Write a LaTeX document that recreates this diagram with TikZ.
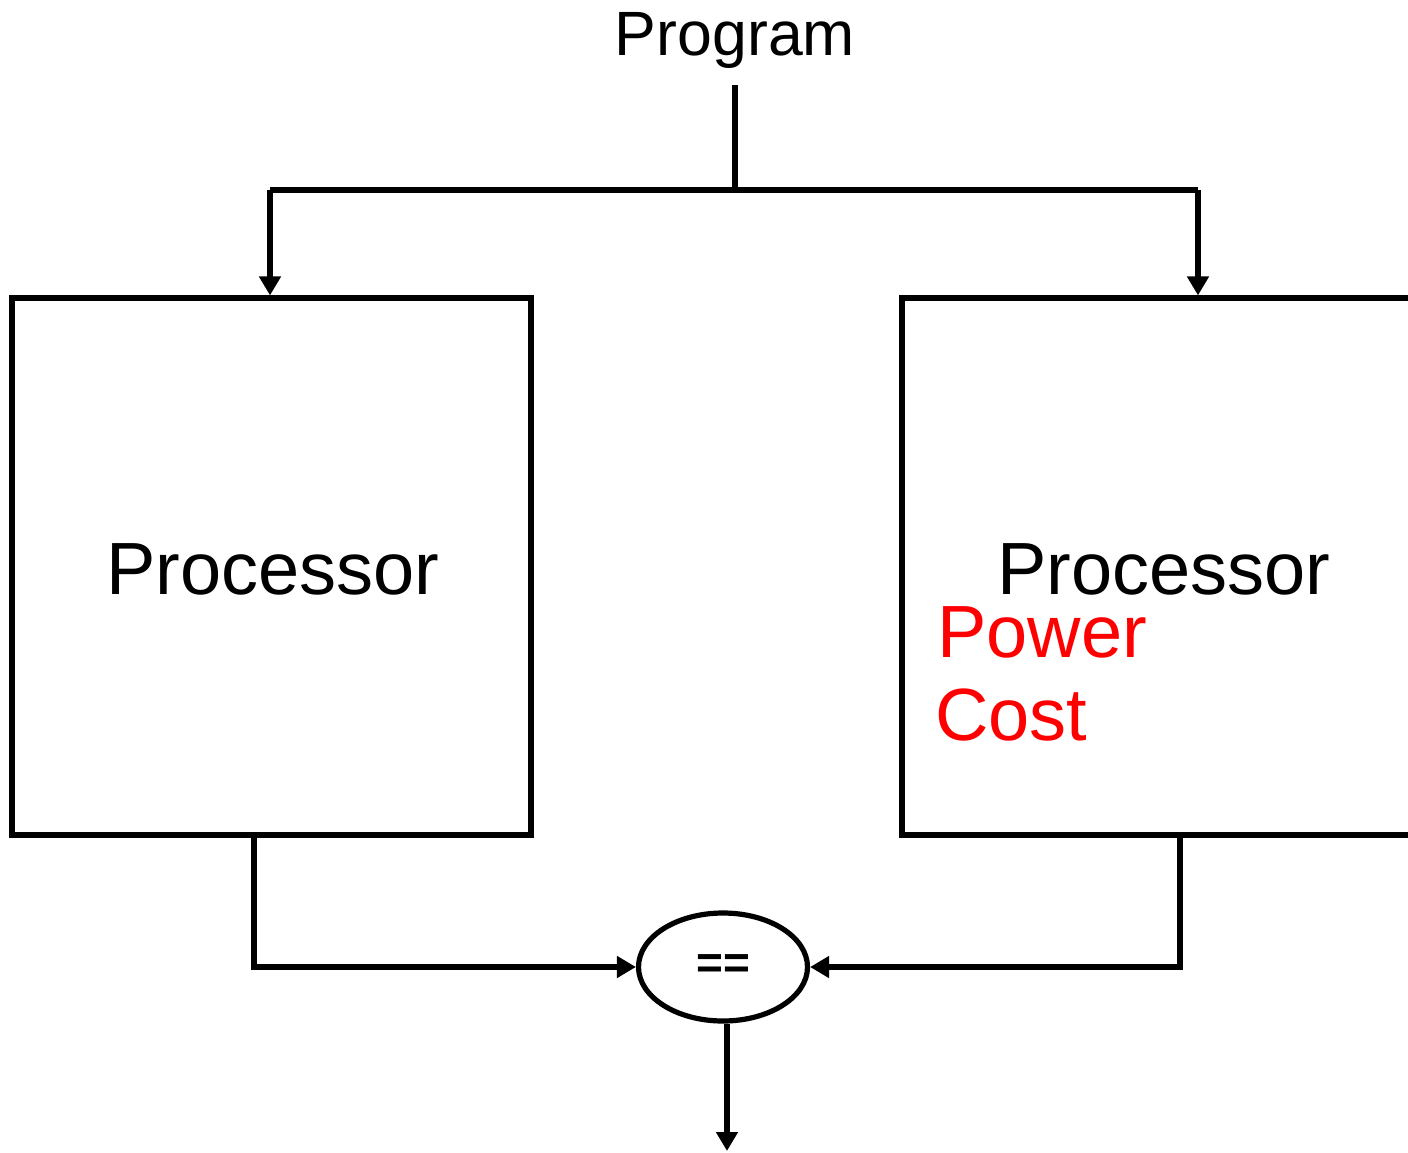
\documentclass[tikz,border=0pt]{standalone}
\usepackage{fontspec}
\setmainfont{Liberation Sans}
\usetikzlibrary{arrows.meta,shapes.geometric}

\tikzset{
  wire/.style={line width=2.6pt, line cap=butt},
  arr/.style={wire, -{Triangle[length=9.5pt,width=10.5pt]}},
  procbox/.style={draw, line width=2.6pt, rectangle, inner sep=0pt,
    minimum width=259.5pt, minimum height=268.5pt},
  bigtext/.style={font=\fontsize{37}{44}\selectfont, inner sep=0pt, anchor=base,
    text depth=0pt},
  redtext/.style={bigtext, text=red, anchor=base west, text height=0.70em},
}

\begin{document}
\begin{tikzpicture}[x=0.5pt, y=-0.5pt]
  \useasboundingbox (0,0) rectangle (1408,1152);
  \clip (0,0) rectangle (1408,1152);

  % input label
  \node[bigtext, font=\fontsize{31.3}{37}\selectfont] (prog) at (735,55) {Program};

  % the two processors
  \node[procbox] (L) at (271.5,566.5) {};
  \node[procbox, minimum width=275pt] (R) at (1177,566.5) {};
  \node[bigtext] (lname) at (273,594) {Processor};
  \node[bigtext] (rname) at (1164,594) {Processor};
  \node[redtext] (power) at (937,657) {Power};
  \node[redtext] (cost) at (935,740) {Cost};

  % comparator
  \node[draw, ellipse, line width=2.6pt, minimum width=84.5pt, minimum height=54pt,
        inner sep=0pt, font=\fontsize{23}{28}\selectfont\bfseries] (E) at (723,967) {==};

  % routing points
  \coordinate (pin) at (735,85);
  \coordinate (pj) at (735,190);
  \coordinate (tl) at (270,190);
  \coordinate (tr) at (1198,190);
  \coordinate (lo) at (254,835);
  \coordinate (ro) at (1180,835);
  \coordinate (out) at (727,1151);

  % program fan-out
  \draw[wire] (pin) -- (pj);
  \draw[wire] (tl) -- (tr);
  \draw[arr] (tl) -- (tl |- L.north);
  \draw[arr] (tr) -- (tr |- R.north);

  % outputs into the comparator
  \draw[arr] (lo) |- (E.west);
  \draw[arr] (ro) |- (E.east);
  \draw[arr] (E.south -| out) -- (out);
\end{tikzpicture}
\end{document}
